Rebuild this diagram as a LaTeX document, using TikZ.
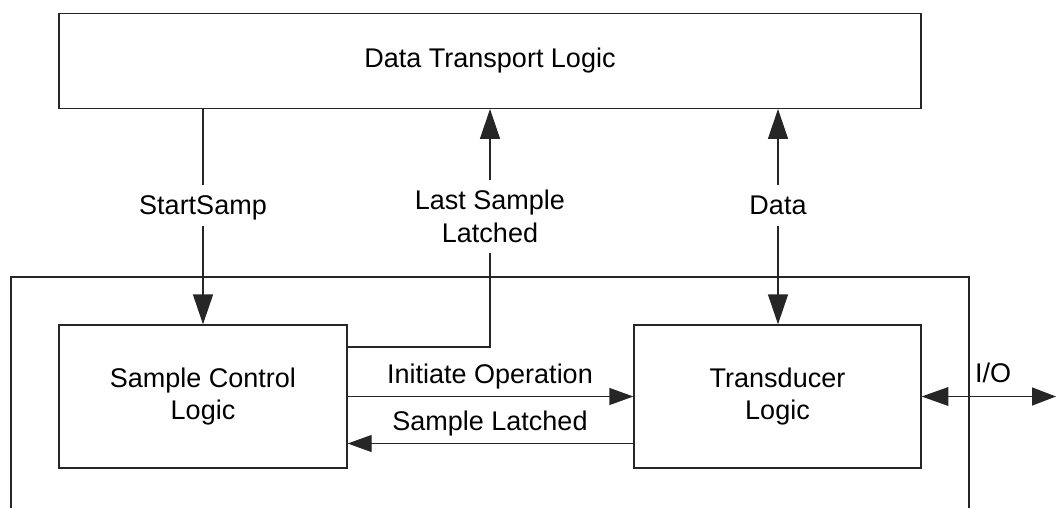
\documentclass[tikz,border=0pt]{standalone}
\usepackage{fontspec}
\setmainfont{Liberation Sans}
\usetikzlibrary{arrows.meta}
\tikzset{
  blk/.style={draw, align=center, inner sep=0pt},
  lbl/.style={inner sep=0pt},
  gaplbl/.style={inner sep=0pt, align=center},
  varrow/.style={-{Triangle[length=22.5pt,width=15pt]}},
  harrow/.style={-{Triangle[length=18pt,width=12.75pt]}},
  bharrow/.style={{Triangle[length=20pt,width=14pt]}-{Triangle[length=18pt,width=13.5pt]}},
}
\begin{document}
\begin{tikzpicture}[x=0.75pt,y=-0.75pt,line width=1pt,draw=black!85,font=\fontsize{20.25}{24.5}\selectfont]
\useasboundingbox (0,0) rectangle (1056,508);
% outer frame, open at the bottom
\draw (11,508) -- (11,277) -- (969,277) -- (969,508);
\node[blk,minimum width=646.5pt,minimum height=71.25pt] (transport) at (490,60.8) {Data Transport Logic};
\node[blk,minimum width=216pt,minimum height=107.25pt] (sample) at (203,396.5) {Sample Control\\Logic};
\node[blk,minimum width=215.25pt,minimum height=107.25pt] (trans) at (777.5,396.5) {Transducer\\Logic};
% labels sitting in the vertical lines
\node[gaplbl,minimum height=29.25pt,text depth=0pt] (startlbl) at (203,205.5) {StartSamp};
\node[gaplbl,minimum height=29.25pt,text depth=0pt] (datalbl) at (778,205.5) {Data};
\node[gaplbl,minimum height=53.25pt] (lastlbl) at (490,216.5) {Last Sample\\Latched};
\draw (transport.south -| startlbl) -- (startlbl.north);
\draw[varrow] (startlbl.south) -- (sample.north);
\draw[varrow] (datalbl.north) -- (transport.south -| datalbl);
\draw[varrow] (datalbl.south) -- (trans.north -| datalbl);
\coordinate (bend) at (490,347);
\draw (sample.east |- bend) -- (bend) -- (lastlbl.south);
\draw[varrow] (lastlbl.north) -- (transport.south -| lastlbl);
% between the two blocks
\draw[harrow] (sample.east) -- (trans.west);
\draw[harrow] ([yshift=-35.25pt]trans.west) -- ([yshift=-35.25pt]sample.east);
\node[lbl,anchor=base] (initlbl) at (490,383.3) {Initiate Operation};
\node[lbl,anchor=base] (latchlbl) at (490,430.7) {Sample Latched};
% I/O
\coordinate (ioend) at (1056,396.5);
\draw[bharrow] (trans.east) -- (ioend);
\node[lbl,anchor=base] (iolbl) at (993,382.7) {I/O};
\end{tikzpicture}
\end{document}
